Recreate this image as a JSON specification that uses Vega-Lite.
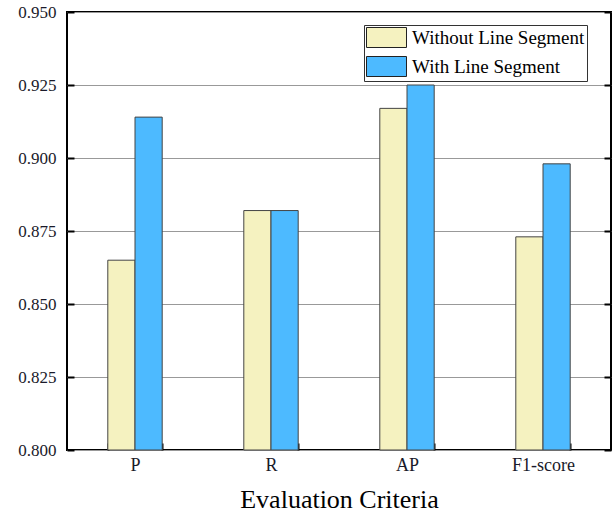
{
  "$schema": "https://vega.github.io/schema/vega-lite/v6.json",
  "width": 544,
  "height": 438,
  "autosize": {"type": "none"},
  "padding": {"left": 67, "top": 12, "right": 3, "bottom": 68},
  "background": "white",
  "config": {
    "view": {"stroke": "black", "strokeWidth": 2},
    "font": "Liberation Serif",
    "axis": {"domain": false, "labelFont": "Liberation Serif", "titleFont": "Liberation Serif", "labelColor": "#1a1a2a", "titleColor": "black", "tickColor": "black", "tickWidth": 2}
  },
  "data": {
    "values": [
      {"criterion": "P", "group": "Without Line Segment", "value": 0.865},
      {"criterion": "P", "group": "With Line Segment", "value": 0.914},
      {"criterion": "R", "group": "Without Line Segment", "value": 0.882},
      {"criterion": "R", "group": "With Line Segment", "value": 0.882},
      {"criterion": "AP", "group": "Without Line Segment", "value": 0.917},
      {"criterion": "AP", "group": "With Line Segment", "value": 0.925},
      {"criterion": "F1-score", "group": "Without Line Segment", "value": 0.873},
      {"criterion": "F1-score", "group": "With Line Segment", "value": 0.898}
    ]
  },
  "encoding": {
    "x": {
      "field": "criterion", "type": "nominal", "sort": ["P", "R", "AP", "F1-score"],
      "scale": {"paddingInner": 0.6, "paddingOuter": 0.3},
      "axis": {"title": "Evaluation Criteria", "titleFont": "Liberation Serif", "labelFont": "Liberation Serif", "titleFontSize": 26, "titleFontWeight": "normal", "titlePadding": 12, "labelFontSize": 18, "labelAngle": 0, "labelPadding": 13, "tickBand": "extent", "tickSize": -7, "grid": false}
    },
    "xOffset": {"field": "group", "type": "nominal", "sort": ["Without Line Segment", "With Line Segment"]},
    "y": {
      "field": "value", "type": "quantitative",
      "scale": {"domain": [0.8, 0.95], "nice": false, "zero": false}
    },
    "y2": {"datum": 0.8}
  },
  "layer": [
    {
      "mark": {"type": "bar", "stroke": "#444", "strokeWidth": 1},
      "encoding": {
        "y": {
          "field": "value", "type": "quantitative",
          "axis": {"orient": "left", "title": null, "values": [0.8, 0.825, 0.85, 0.875, 0.9, 0.925, 0.95], "format": ".3f", "labelFont": "Liberation Serif", "labelFontSize": 17, "labelPadding": 18, "tickSize": -7, "grid": true, "gridColor": "#999", "gridWidth": 1}
        },
        "color": {
          "field": "group", "type": "nominal",
          "sort": ["Without Line Segment", "With Line Segment"],
          "scale": {"domain": ["Without Line Segment", "With Line Segment"], "range": ["#F5F2C0", "#4DBAFF"]},
          "legend": {
            "title": null, "orient": "none", "legendX": 297, "legendY": 13,
            "strokeColor": "#333", "fillColor": "white", "padding": 2,
            "symbolType": "M-1,-1H3V1H-1Z", "symbolSize": 400,
            "symbolStrokeColor": "#222", "symbolStrokeWidth": 1, "symbolOpacity": 1,
            "labelFont": "Liberation Serif", "labelFontSize": 19, "labelColor": "black",
            "labelOffset": 25, "rowPadding": 4, "labelLimit": 300
          }
        }
      }
    },
    {
      "mark": {"type": "bar", "opacity": 0},
      "encoding": {
        "y": {
          "field": "value", "type": "quantitative",
          "axis": {"orient": "right", "title": null, "values": [0.8, 0.825, 0.85, 0.875, 0.9, 0.925, 0.95], "labels": false, "tickSize": -7, "grid": false}
        }
      }
    }
  ],
  "resolve": {"axis": {"y": "independent"}}
}
